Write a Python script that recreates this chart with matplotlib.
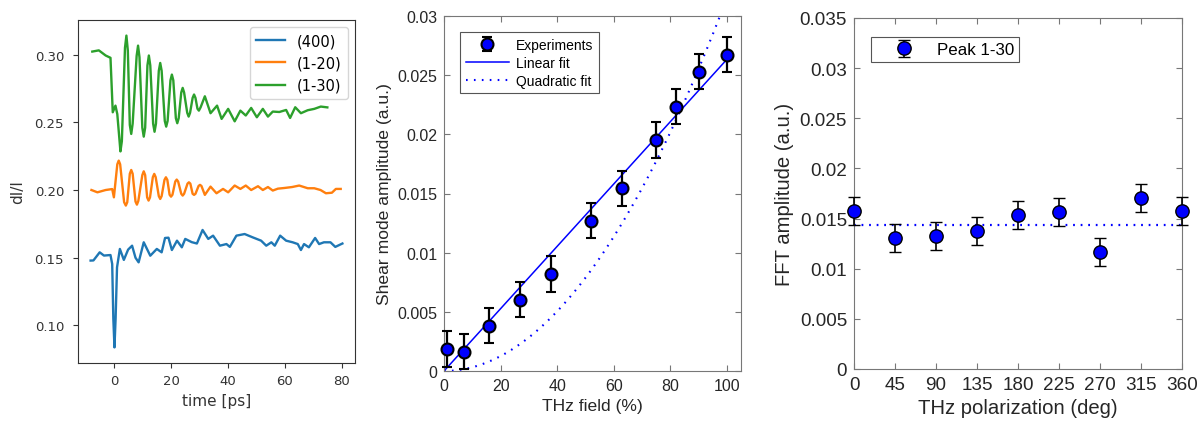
import numpy as np
import matplotlib.pyplot as plt
from matplotlib.ticker import FuncFormatter

# ---------------- left panel: dI/I time traces ----------------
t_400 = [-8.4, -7.4, -5.2, -3.7, -1.4, -0.8, -0.4, 0.0, 0.4, 0.9, 1.9, 3.3, 4.8, 6.2,
         7.4, 8.5, 10.3, 12.6, 14.9, 16.6, 17.8, 19.0, 20.2, 22.0, 23.7, 24.9, 27.2,
         29.0, 31.0, 33.0, 34.7, 37.1, 39.4, 40.6, 42.9, 45.8, 48.7, 51.6, 53.4, 55.2,
         56.4, 58.3, 60.4, 62.7, 64.5, 65.6, 66.7, 68.4, 70.6, 72.0, 73.7, 76.0, 77.7, 80.2]
v_400 = [0.1479, 0.1480, 0.1540, 0.1516, 0.1520, 0.1454, 0.1050, 0.0838, 0.1050, 0.1429,
         0.1565, 0.1484, 0.1560, 0.1589, 0.1500, 0.1466, 0.1614, 0.1515, 0.1565, 0.1540,
         0.1646, 0.1648, 0.1557, 0.1626, 0.1577, 0.1639, 0.1615, 0.1605, 0.1705, 0.1639,
         0.1663, 0.1589, 0.1601, 0.1580, 0.1663, 0.1675, 0.1650, 0.1626, 0.1589, 0.1614,
         0.1589, 0.1663, 0.1626, 0.1614, 0.1601, 0.1557, 0.1601, 0.1577, 0.1646, 0.1601,
         0.1614, 0.1614, 0.1580, 0.1605]

t_120 = [-8.1, -6.0, -3.1, -0.8, -0.2, 1.0, 1.5, 2.0, 3.4, 4.0, 4.5, 5.4, 5.9, 6.4, 7.4,
         7.9, 8.4, 9.8, 10.3, 10.8, 11.5, 12.0, 12.5, 13.5, 14.0, 14.5, 15.6, 16.1, 16.6,
         17.6, 18.1, 18.6, 19.4, 19.9, 20.4, 21.4, 21.9, 22.4, 23.5, 24.0, 24.5, 25.7,
         26.2, 26.7, 27.5, 28.0, 28.5, 29.6, 30.1, 30.6, 31.8, 33.8, 35.9, 38.2, 40.0,
         42.3, 44.3, 46.2, 48.1, 50.5, 52.2, 54.0, 55.7, 57.5, 59.8, 62.5, 65.0, 68.0,
         70.3, 72.5, 74.4, 76.5, 77.9, 79.6]
v_120 = [0.2000, 0.1983, 0.2000, 0.2007, 0.1946, 0.2190, 0.2217, 0.2190, 0.1910, 0.1885,
         0.1910, 0.2120, 0.2148, 0.2120, 0.1915, 0.1892, 0.1920, 0.2110, 0.2138, 0.2110,
         0.1945, 0.1922, 0.1945, 0.2095, 0.2119, 0.2095, 0.1955, 0.1934, 0.1955, 0.2075,
         0.2094, 0.2075, 0.1965, 0.1951, 0.1965, 0.2063, 0.2077, 0.2063, 0.1972, 0.1959,
         0.1972, 0.2047, 0.2057, 0.2047, 0.1972, 0.1964, 0.1972, 0.2030, 0.2038, 0.2030,
         0.1964, 0.2025, 0.1976, 0.2008, 0.1983, 0.2033, 0.2008, 0.2033, 0.2000, 0.2028,
         0.2000, 0.2022, 0.1996, 0.2010, 0.2015, 0.2022, 0.2033, 0.2013, 0.2013, 0.2000,
         0.1976, 0.1980, 0.2008, 0.2008]

t_130 = [-7.8, -5.5, -3.1, -1.4, -0.6, 0.35, 1.0, 2.1, 2.6, 3.7, 4.2, 4.7, 5.4, 5.9, 6.4,
         7.8, 8.3, 8.8, 9.8, 10.3, 10.8, 11.6, 12.1, 12.6, 13.6, 14.1, 14.6, 15.6, 16.1,
         16.6, 17.7, 18.2, 18.7, 19.7, 20.2, 20.7, 21.6, 22.1, 22.6, 23.5, 24.0, 24.5,
         25.6, 26.1, 26.6, 27.5, 28.0, 28.5, 29.2, 29.7, 30.3, 31.8, 33.8, 36.1, 37.7,
         40.0, 42.3, 44.3, 46.2, 48.1, 50.1, 52.2, 54.0, 55.7, 58.0, 60.4, 61.8, 63.6,
         65.6, 68.0, 70.3, 72.6, 74.9]
v_130 = [0.3022, 0.3031, 0.2993, 0.2976, 0.2574, 0.2623, 0.2560, 0.2285, 0.2360, 0.3050,
         0.3140, 0.3030, 0.2480, 0.2414, 0.2490, 0.2990, 0.3066, 0.2980, 0.2460, 0.2394,
         0.2460, 0.2920, 0.2993, 0.2920, 0.2490, 0.2430, 0.2490, 0.2880, 0.2938, 0.2880,
         0.2510, 0.2468, 0.2510, 0.2810, 0.2852, 0.2810, 0.2530, 0.2493, 0.2530, 0.2720,
         0.2754, 0.2720, 0.2570, 0.2542, 0.2570, 0.2680, 0.2705, 0.2680, 0.2600, 0.2586,
         0.2610, 0.2692, 0.2567, 0.2623, 0.2525, 0.2599, 0.2507, 0.2586, 0.2550, 0.2606,
         0.2537, 0.2599, 0.2542, 0.2579, 0.2576, 0.2591, 0.2532, 0.2611, 0.2567, 0.2589,
         0.2599, 0.2616, 0.2610]

trace_labels = ['(400)', '(1-20)', '(1-30)']

# ---------------- middle panel: amplitude vs THz field ----------------
field = np.array([1, 7, 16, 27, 38, 52, 63, 75, 82, 90, 100])
shear_amp = np.array([0.00186, 0.00163, 0.00383, 0.00603, 0.0082, 0.0127,
                      0.01544, 0.01952, 0.02234, 0.0253, 0.02673])
shear_err = np.array([0.0015] * 11)

# ---------------- right panel: amplitude vs polarization ----------------
pol = np.array([0, 45, 90, 135, 180, 225, 270, 315, 360])
fft_amp = np.array([0.01572, 0.01306, 0.01329, 0.01373, 0.01536, 0.01562,
                    0.0117, 0.01702, 0.01572])
fft_err = np.array([0.0014] * 9)
fft_level = 0.0144


#-------------------------------------------------------#
def fit_origin(x, y, p):
    # 原点を通る y = a x^p の最小二乗
    x = np.asarray(x, float)
    return np.sum(x**p * y) / np.sum(x**(2 * p))
#-------------------------------------------------------#

fig = plt.figure(figsize=(11.97, 4.27), dpi=100)

# left
ax1 = fig.add_axes([78/1197, 63/427, 277/1197, 343/427])
ax1.plot(t_400, v_400, color='#1f77b4', lw=1.7, label=trace_labels[0],
         solid_joinstyle='round')
ax1.plot(t_120, v_120, color='#ff7f0e', lw=1.7, label=trace_labels[1],
         solid_joinstyle='round')
ax1.plot(t_130, v_130, color='#2ca02c', lw=1.7, label=trace_labels[2],
         solid_joinstyle='round')
ax1.set_xticks([0, 20, 40, 60, 80])
ax1.set_yticks([0.10, 0.15, 0.20, 0.25, 0.30])
ax1.yaxis.set_major_formatter(FuncFormatter(lambda v, p: '%.2f' % v))
ax1.tick_params(labelsize=9.5, colors='#333333')
ax1.tick_params(axis='y', pad=6.5)
ax1.tick_params(axis='x', pad=4.5)
for s in ax1.spines.values():
    s.set_color('#333333')
ax1.set_xlabel('time [ps]', fontsize=11, color='#333333')
ax1.set_ylabel('dI/I', fontsize=11, color='#333333')
ax1.yaxis.set_label_coords(-0.19, 0.5)
ax1.legend(loc='upper right', fontsize=10.5)

# MATLAB風の設定
matfont = 'Liberation Sans'
gray = '#777777'
txt = '#262626'


def matlab_axes(ax, size):
    for s in ax.spines.values():
        s.set_color(gray)
        s.set_linewidth(0.8)
    ax.tick_params(direction='in', top=True, right=True, length=4, width=0.8,
                   color=gray, labelcolor=txt, labelsize=size, pad=5)
    for lab in ax.get_xticklabels() + ax.get_yticklabels():
        lab.set_family(matfont)
    ax.yaxis.set_major_formatter(FuncFormatter(lambda v, p: '%g' % round(v, 4)))


# middle
ax2 = fig.add_axes([444/1197, 55/427, 297/1197, 355/427])
a_lin = fit_origin(field, shear_amp, 1)
a_quad = fit_origin(field, shear_amp, 2)
xf = np.linspace(0, 100, 200)
eb = ax2.errorbar(field, shear_amp, yerr=shear_err, fmt='o', color='black',
                  mfc='#0000ff', mec='black', mew=1.5, ms=8.6, elinewidth=1.6,
                  capsize=3.6, capthick=1.6, zorder=3, clip_on=False)
l1, = ax2.plot(xf, a_lin * xf, color='#0000ff', lw=1.1)
l2, = ax2.plot(xf, a_quad * xf**2, color='#0000ff', lw=1.5, ls=(0, (0.8, 3.0)))
ax2.set_xlim(0, 105)
ax2.set_ylim(0, 0.03)
ax2.set_xticks([0, 20, 40, 60, 80, 100])
ax2.set_yticks([0, 0.005, 0.01, 0.015, 0.02, 0.025, 0.03])
matlab_axes(ax2, 11.5)
ax2.set_xlabel('THz field (%)', family=matfont, fontsize=12.6, color=txt)
ax2.set_ylabel('Shear mode amplitude (a.u.)', family=matfont, fontsize=12.6, color=txt)
leg2 = ax2.legend([eb, l1, l2], ['Experiments', 'Linear fit', 'Quadratic fit'],
                  loc='upper left', bbox_to_anchor=(0.054, 0.955), borderaxespad=0,
                  prop={'family': matfont, 'size': 10}, fancybox=False,
                  edgecolor='#555555', framealpha=1, handlelength=3.1,
                  handletextpad=0.5, labelspacing=0.3, borderpad=0.4)
leg2.get_frame().set_linewidth(0.8)

# right
ax3 = fig.add_axes([854/1197, 57/427, 328/1197, 351/427])
ax3.plot([0, 360], [fft_level, fft_level], color='#0000ff', lw=1.6,
         ls=(0, (0.8, 2.6)))
eb3 = ax3.errorbar(pol, fft_amp, yerr=fft_err, fmt='o', color='black',
                   mfc='#0000ff', mec='black', mew=1.0, ms=9.6, elinewidth=1.2,
                   capsize=4, capthick=1.2, zorder=3, clip_on=False)
ax3.set_xlim(0, 360)
ax3.set_ylim(0, 0.035)
ax3.set_xticks(pol)
ax3.set_yticks([0, 0.005, 0.01, 0.015, 0.02, 0.025, 0.03, 0.035])
matlab_axes(ax3, 13.6)
ax3.set_xlabel('THz polarization (deg)', family=matfont, fontsize=14.6, color=txt)
ax3.set_ylabel('FFT amplitude (a.u.)', family=matfont, fontsize=14.6, color=txt)
leg3 = ax3.legend([eb3], ['Peak 1-30'], loc='upper left',
                  bbox_to_anchor=(0.052, 0.946), borderaxespad=0,
                  prop={'family': matfont, 'size': 12.2}, fancybox=False,
                  edgecolor='#555555', framealpha=1, handlelength=3.3,
                  handletextpad=0.3, borderpad=0.3)
leg3.get_frame().set_linewidth(0.8)

fig.savefig('out.png', dpi=100)
